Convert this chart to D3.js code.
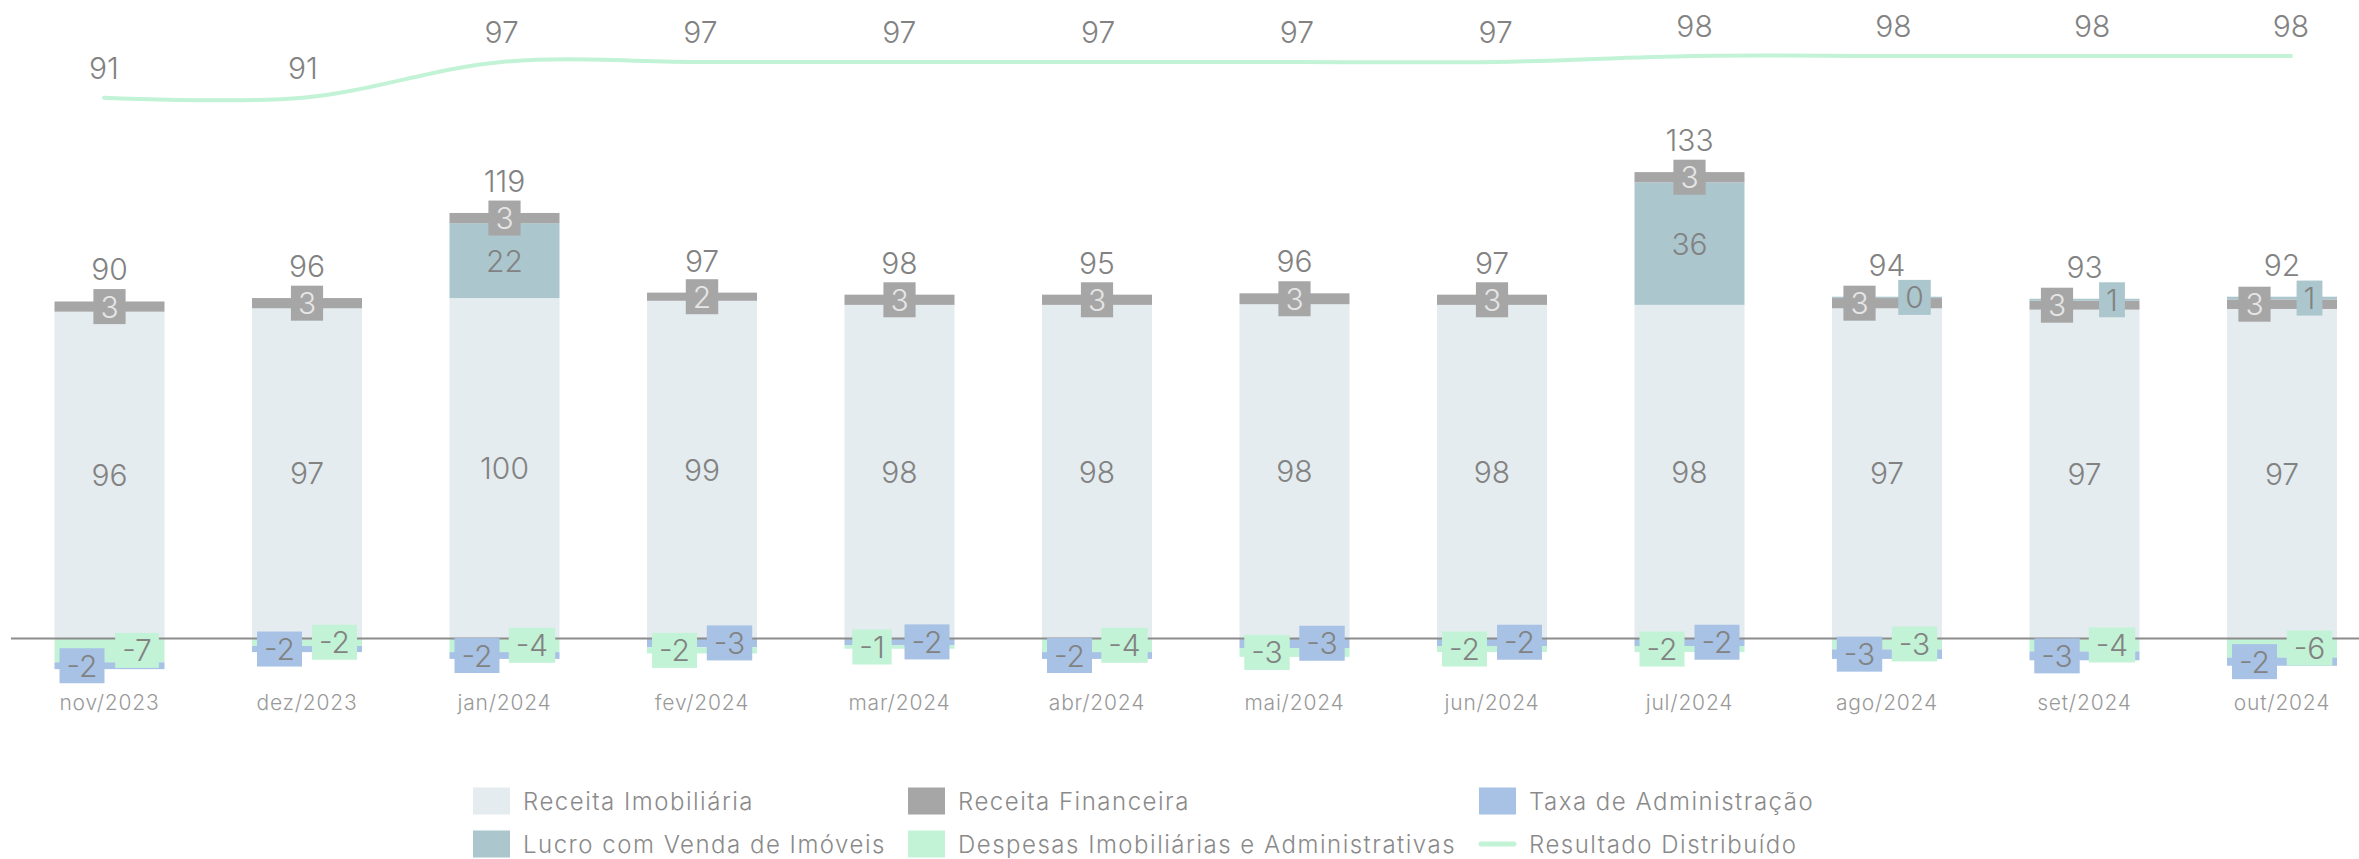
<!DOCTYPE html>
<html>
<head>
<meta charset="utf-8">
<script src="https://cdn.jsdelivr.net/npm/d3@7/dist/d3.min.js"></script>
<style>
  body { margin: 0; background: #fff; }
  text { font-family: Inter, "Noto Sans", sans-serif; font-weight: 300; }
</style>
</head>
<body>
<div id="chart"></div>
<script>
// data
var months = ["nov/2023", "dez/2023", "jan/2024", "fev/2024", "mar/2024", "abr/2024",
              "mai/2024", "jun/2024", "jul/2024", "ago/2024", "set/2024", "out/2024"];
var receitaImob = [96, 97, 100, 99.2, 98, 98, 98.2, 98, 98, 97, 96.6, 96.8];
var receitaFin  = [3, 3, 3, 2.4, 3, 3, 3.2, 3, 3, 3, 2.6, 2.8];
var lucroVenda  = [0, 0, 22, 0, 0, 0, 0, 0, 36, 0.4, 0.6, 0.8];
var taxaAdm     = [-2, -1.8, -2, -2.6, -2, -2, -2.8, -2.2, -2.2, -2.8, -2.6, -2.4];
var despesas    = [-7, -2.2, -4, -1.8, -1, -4, -2.6, -1.8, -1.8, -3.2, -3.8, -5.6];
var resultado   = [91, 91, 97, 97, 97, 97, 97, 97, 98, 98, 98, 98];

var seriesNames = ["Receita Imobiliária", "Receita Financeira", "Taxa de Administração",
                   "Lucro com Venda de Imóveis", "Despesas Imobiliárias e Administrativas", "Resultado Distribuído"];

var colors = {
  imob: "#e4ecef", fin: "#a6a6a6", taxa: "#a7c2e5",
  lucro: "#acc6cd", desp: "#c2f3d6", linha: "#c2f3d6"
};

var width = 2359, height = 859;
var svg = d3.select("#chart").append("svg")
    .attr("width", width)
    .attr("height", height);

// x scales: bars and the line sit on slightly different grids
var x = d3.scaleBand()
    .domain(months)
    .range([10.75, 2380.75])
    .paddingInner(0.443)
    .paddingOuter(0.2215);

var xLine = d3.scalePoint()
    .domain(months)
    .range([104, 2291]);

var y = d3.scaleLinear()
    .domain([-10, 140])
    .range([672.54, 161.9]);

var yLine = d3.scaleLinear()
    .domain([91, 98])
    .range([97.7, 56]);

// plain hyphen as minus, like the original
var fmt = d3.formatLocale({ decimal: ",", thousands: ".", grouping: [3], currency: ["R$", ""], minus: "-" }).format(".0f");

// build stacks per month, larger magnitude nearer zero
var series = [
  { key: "imob", values: receitaImob },
  { key: "fin", values: receitaFin },
  { key: "lucro", values: lucroVenda },
  { key: "taxa", values: taxaAdm },
  { key: "desp", values: despesas }
];

var segments = [];
var totals = [];
months.forEach(function(m, i) {
  var items = series.map(function(s) { return { key: s.key, v: s.values[i], month: m }; })
      .filter(function(d) { return d.v !== 0; });
  var pos = items.filter(function(d) { return d.v > 0; })
      .sort(function(a, b) { return b.v - a.v; });
  var neg = items.filter(function(d) { return d.v < 0; })
      .sort(function(a, b) { return a.v - b.v; });
  var acc = 0;
  pos.forEach(function(d) { d.y0 = acc; acc += d.v; d.y1 = acc; d.side = "pos"; segments.push(d); });
  var top = acc;
  acc = 0;
  neg.forEach(function(d) { d.y0 = acc; acc += d.v; d.y1 = acc; d.side = "neg"; segments.push(d); });
  totals.push({ month: m, top: top, total: d3.sum(items, function(d) { return d.v; }) });
});

var bw = x.bandwidth();

// bars
svg.append("g").selectAll("rect")
  .data(segments)
  .enter().append("rect")
    .attr("x", function(d) { return x(d.month); })
    .attr("width", bw)
    .attr("y", function(d) { return y(Math.max(d.y0, d.y1)); })
    .attr("height", function(d) { return Math.abs(y(d.y0) - y(d.y1)); })
    .attr("fill", function(d) { return colors[d.key]; });

// zero line
svg.append("line")
    .attr("x1", 11).attr("x2", width)
    .attr("y1", y(0)).attr("y2", y(0))
    .attr("stroke", "#8c8c8c")
    .attr("stroke-width", 2);

// x axis
var xAxis = svg.append("g")
    .attr("transform", "translate(0,695)")
    .call(d3.axisBottom(x).tickSize(0).tickPadding(0));
xAxis.select(".domain").remove();
xAxis.selectAll("text")
    .attr("font-size", 21)
    .attr("fill", "#999")
    .attr("letter-spacing", 0.8)
    .style("font-family", "Inter, 'Noto Sans', sans-serif")
    .style("font-weight", 300);

// segment labels
var labels = svg.append("g");
months.forEach(function(m) {
  var segs = segments.filter(function(d) { return d.month === m; });
  ["pos", "neg"].forEach(function(side) {
    var s = segs.filter(function(d) { return d.side === side; });
    var small = s.filter(function(d) { return Math.abs(y(d.y0) - y(d.y1)) < 30; });
    // lower on screen goes to the left
    small.sort(function(a, b) { return y((b.y0 + b.y1) / 2) - y((a.y0 + a.y1) / 2); });
    s.forEach(function(d) {
      var cy = y((d.y0 + d.y1) / 2);
      var cx = x(m) + bw / 2;
      var k = small.indexOf(d);
      if (k >= 0 && small.length > 1) cx = x(m) + bw * (k === 0 ? 0.25 : 0.75);
      var g = labels.append("g");
      var t = g.append("text")
          .attr("x", cx).attr("y", cy)
          .attr("text-anchor", "middle")
          .attr("dominant-baseline", "central")
          .attr("font-size", 30)
          .attr("fill", d.key === "fin" ? "#e6e6e6" : "#828282")
          .text(fmt(d.v));
      if (k >= 0) {
        var tw = t.node().getComputedTextLength();
        g.insert("rect", "text")
            .attr("x", cx - tw / 2 - 7)
            .attr("y", cy - 17.5)
            .attr("width", tw + 14)
            .attr("height", 35)
            .attr("fill", colors[d.key]);
      }
    });
  });
});

// totals
svg.append("g").selectAll("text")
  .data(totals)
  .enter().append("text")
    .attr("x", function(d) { return x(d.month) + bw / 2; })
    .attr("y", function(d) { return y(d.top) - 21; })
    .attr("text-anchor", "middle")
    .attr("font-size", 30)
    .attr("fill", "#828282")
    .text(function(d) { return fmt(d.total); });

// resultado distribuido line
var line = d3.line()
    .x(function(d, i) { return xLine(months[i]); })
    .y(function(d) { return yLine(d); })
    .curve(d3.curveCatmullRom);

svg.append("path")
    .datum(resultado)
    .attr("d", line)
    .attr("fill", "none")
    .attr("stroke", colors.linha)
    .attr("stroke-width", 4)
    .attr("stroke-linecap", "round");

svg.append("g").selectAll("text")
  .data(resultado)
  .enter().append("text")
    .attr("x", function(d, i) { return xLine(months[i]); })
    .attr("y", function(d) { return yLine(d) - 19; })
    .attr("text-anchor", "middle")
    .attr("font-size", 30)
    .attr("fill", "#828282")
    .text(function(d) { return fmt(d); });

// legend
var legendCols = [473, 908, 1479];
var legendRows = [801, 844];
var legendKeys = ["imob", "fin", "taxa", "lucro", "desp", "linha"];
var legend = svg.append("g");
seriesNames.forEach(function(name, i) {
  var lx = legendCols[i % 3], ly = legendRows[Math.floor(i / 3)];
  if (legendKeys[i] === "linha") {
    legend.append("line")
        .attr("x1", lx + 2).attr("x2", lx + 35)
        .attr("y1", ly).attr("y2", ly)
        .attr("stroke", colors.linha)
        .attr("stroke-width", 5)
        .attr("stroke-linecap", "round");
  } else {
    legend.append("rect")
        .attr("x", lx).attr("y", ly - 13.5)
        .attr("width", 37).attr("height", 27)
        .attr("fill", colors[legendKeys[i]]);
  }
  legend.append("text")
      .attr("x", lx + 50).attr("y", ly)
      .attr("dominant-baseline", "central")
      .attr("font-size", 24)
      .attr("letter-spacing", 1.5)
      .attr("fill", "#8a8a8a")
      .text(name);
});
</script>
</body>
</html>
